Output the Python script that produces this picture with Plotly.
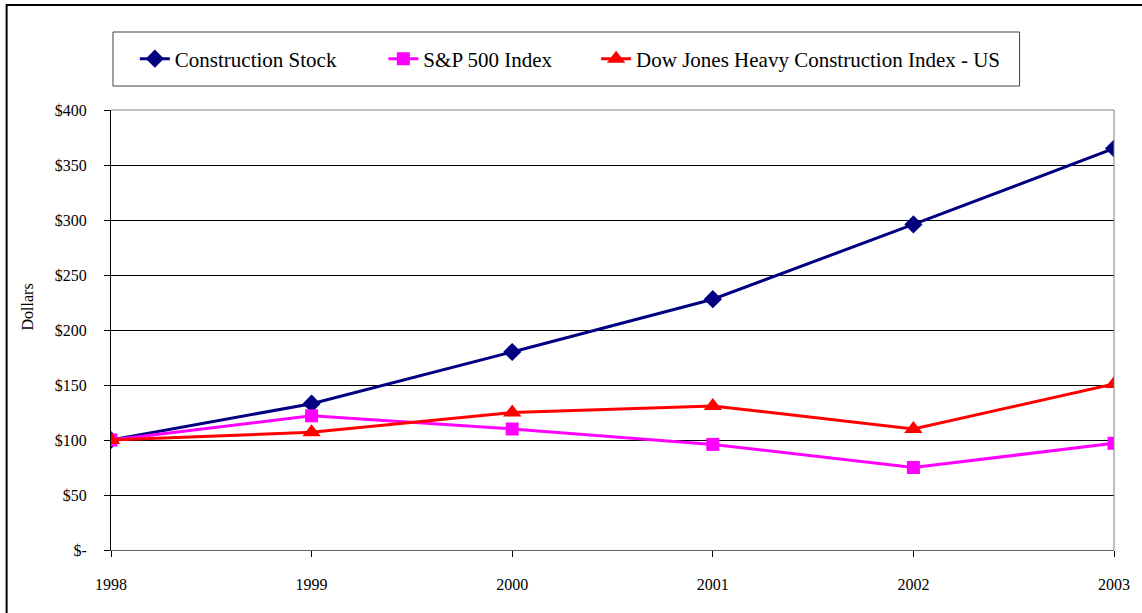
import plotly.graph_objects as go

years = [1998, 1999, 2000, 2001, 2002, 2003]
construction = [100, 133, 180, 228, 296, 365]
sp500 = [100, 122, 110, 96, 75, 97]
dowjones = [100, 107, 125, 131, 110, 151]
ytick_vals = [0, 50, 100, 150, 200, 250, 300, 350, 400]
ytick_text = ["$-", "$50", "$100", "$150", "$200", "$250", "$300", "$350", "$400"]

serif = "Liberation Serif"

L, R, T, B = 111, 22, 110, 63
W, H = 1142, 613
PW, PH = W - L - R, H - T - B


def px_x(p):
    return (p - L) / PW


def px_y(p):
    return (H - B - p) / PH


fig = go.Figure()
fig.add_trace(go.Scatter(x=years, y=construction, name="Construction Stock",
                         mode="lines+markers", legend="legend",
                         line=dict(color="#000080", width=3),
                         marker=dict(symbol="diamond", size=14, color="#000080")))
fig.add_trace(go.Scatter(x=years, y=sp500, name="S&P 500 Index",
                         mode="lines+markers", legend="legend2",
                         line=dict(color="#FF00FF", width=3),
                         marker=dict(symbol="square", size=13, color="#FF00FF")))
fig.add_trace(go.Scatter(x=years, y=dowjones, name="Dow Jones Heavy Construction Index - US",
                         mode="lines+markers", legend="legend3",
                         line=dict(color="#FF0000", width=3),
                         marker=dict(symbol="triangle-up", size=16, color="#FF0000")))

leg_common = dict(orientation="h", xanchor="left", yanchor="middle", y=px_y(59),
                  bgcolor="rgba(0,0,0,0)", borderwidth=0,
                  font=dict(family=serif, size=21, color="black"))

fig.update_layout(
    width=W, height=H,
    margin=dict(l=L, r=R, t=T, b=B),
    paper_bgcolor="white", plot_bgcolor="white",
    font=dict(family=serif, size=16, color="black"),
    showlegend=True,
    legend=dict(x=px_x(135), **leg_common),
    legend2=dict(x=px_x(385), **leg_common),
    legend3=dict(x=px_x(599), **leg_common),
    xaxis=dict(range=[1998, 2003], tickvals=years, showgrid=False, zeroline=False,
               ticks="outside", ticklen=6, tickcolor="black",
               showline=True, linecolor="#606060", linewidth=1,
               ticklabelstandoff=14,
               tickfont=dict(family=serif, size=16)),
    yaxis=dict(range=[0, 400], tickvals=ytick_vals, ticktext=ytick_text,
               showgrid=True, gridcolor="black", gridwidth=1, zeroline=False,
               ticks="outside", ticklen=6, tickcolor="black",
               showline=True, linecolor="black", linewidth=1,
               ticklabelstandoff=14,
               tickfont=dict(family=serif, size=16)),
    annotations=[dict(text="Dollars", xref="paper", yref="paper", x=px_x(27), y=px_y(307),
                      textangle=-90, showarrow=False, xanchor="center", yanchor="middle",
                      font=dict(family=serif, size=16, color="black"))],
    shapes=[
        dict(type="rect", xref="paper", yref="paper", x0=px_x(6), x1=px_x(1160),
             y0=px_y(630), y1=px_y(5),
             line=dict(color="black", width=2), fillcolor="rgba(0,0,0,0)", layer="below"),
        dict(type="rect", xref="paper", yref="paper", x0=px_x(113), x1=px_x(1025),
             y0=px_y(86), y1=px_y(32),
             line=dict(color="#404040", width=1), fillcolor="rgba(0,0,0,0)", layer="below"),
        dict(type="line", xref="paper", yref="paper", x0=0, x1=1, y0=1, y1=1,
             line=dict(color="#808080", width=1)),
        dict(type="line", xref="paper", yref="paper", x0=1, x1=1, y0=0, y1=1,
             line=dict(color="#808080", width=1)),
    ],
)

fig.write_html("out.html")
